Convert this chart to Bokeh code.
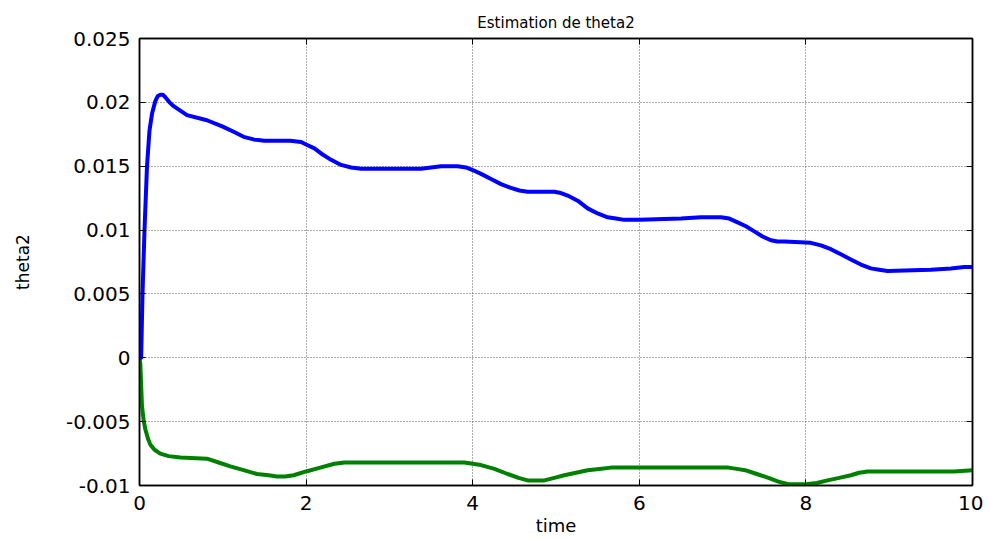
from bokeh.plotting import figure
from bokeh.models import LinearAxis, Range1d, FixedTicker, CustomJSTickFormatter
from bokeh.embed import file_html
from bokeh.resources import INLINE

title_text = "Estimation de theta2"
x_label = "time"
y_label = "theta2"

x_ticks = [0, 2, 4, 6, 8, 10]
y_ticks = [-0.01, -0.005, 0, 0.005, 0.01, 0.015, 0.02, 0.025]

t_blue = [0, 0.02, 0.036, 0.06, 0.09, 0.12, 0.15, 0.19, 0.22, 0.25, 0.28, 0.31, 0.36, 0.41,
          0.57, 0.81, 1.0, 1.13, 1.25, 1.37, 1.5, 1.81, 1.94, 2.0, 2.1, 2.18, 2.3, 2.42,
          2.54, 2.66, 2.9, 3.38, 3.5, 3.62, 3.82, 3.92, 4.0, 4.1, 4.22, 4.34, 4.46, 4.56,
          4.66, 4.98, 5.06, 5.14, 5.26, 5.38, 5.5, 5.62, 5.72, 5.82, 6.0, 6.5, 6.74, 6.98,
          7.08, 7.18, 7.28, 7.38, 7.48, 7.58, 7.66, 7.74, 8.06, 8.18, 8.3, 8.42, 8.54, 8.66,
          8.78, 8.88, 8.98, 9.5, 9.74, 9.9, 10.0]
v_blue = [0, 0.0, 0.005, 0.010, 0.015, 0.0178, 0.0191, 0.0201, 0.0205, 0.0206, 0.0206,
          0.0204, 0.0200, 0.0197, 0.0190, 0.0186, 0.0181, 0.0177, 0.0173, 0.0171, 0.0170,
          0.0170, 0.0169, 0.0167, 0.0164, 0.0160, 0.0155, 0.0151, 0.0149, 0.0148, 0.0148,
          0.0148, 0.0149, 0.0150, 0.0150, 0.0149, 0.0147, 0.0144, 0.0140, 0.0136, 0.0133,
          0.0131, 0.0130, 0.0130, 0.0129, 0.0127, 0.0123, 0.0117, 0.0113, 0.0110, 0.0109,
          0.0108, 0.0108, 0.0109, 0.0110, 0.0110, 0.0109, 0.0106, 0.0103, 0.0099, 0.0095,
          0.0092, 0.0091, 0.0091, 0.0090, 0.0088, 0.0085, 0.0081, 0.0077, 0.0073, 0.0070,
          0.0069, 0.0068, 0.0069, 0.0070, 0.0071, 0.0071]

t_green = [0, 0.01, 0.03, 0.05, 0.07, 0.1, 0.13, 0.18, 0.25, 0.35, 0.49, 0.81, 0.95, 1.09,
           1.25, 1.41, 1.55, 1.65, 1.75, 1.85, 2.0, 2.17, 2.34, 2.46, 2.58, 3.9, 4.0, 4.1,
           4.26, 4.42, 4.55, 4.66, 4.76, 4.86, 4.98, 5.1, 5.24, 5.38, 5.52, 5.66, 7.07,
           7.17, 7.27, 7.41, 7.55, 7.67, 7.79, 7.9, 8.0, 8.13, 8.26, 8.4, 8.54, 8.64, 8.74,
           9.78, 10.0]
v_green = [0, -0.0005, -0.0038, -0.0049, -0.0056, -0.0063, -0.0068, -0.0072, -0.0075,
           -0.0077, -0.0078, -0.0079, -0.0082, -0.0085, -0.0088, -0.0091, -0.0092, -0.0093,
           -0.0093, -0.0092, -0.0089, -0.0086, -0.0083, -0.0082, -0.0082, -0.0082, -0.0083,
           -0.0084, -0.0087, -0.0091, -0.0094, -0.0096, -0.0096, -0.0096, -0.0094, -0.0092,
           -0.0090, -0.0088, -0.0087, -0.0086, -0.0086, -0.0087, -0.0088, -0.0091, -0.0094,
           -0.0097, -0.0099, -0.0099, -0.0099, -0.0098, -0.0096, -0.0094, -0.0092, -0.0090,
           -0.0089, -0.0089, -0.0088]

FONT = "DejaVu Sans"

p = figure(width=983, height=538, output_backend="svg", toolbar_location=None,
           x_range=Range1d(0, 10), y_range=Range1d(-0.01, 0.025),
           min_border_left=139, min_border_right=11, min_border_top=38,
           min_border_bottom=44, title=title_text)

p.title.align = "center"
p.title.text_font = FONT
p.title.text_font_size = "15px"
p.title.text_font_style = "normal"
p.title.text_color = "black"
p.title.offset = 0
p.title.standoff = 13

fmt = CustomJSTickFormatter(code="return String(parseFloat(tick.toFixed(4)));")
blank = CustomJSTickFormatter(code="return '';")

for ax in (p.xaxis[0], p.yaxis[0]):
    ax.major_label_text_font = FONT
    ax.major_label_text_font_size = "20px"
    ax.major_label_text_color = "black"
    ax.axis_line_color = "black"
    ax.axis_line_width = 1.5
    ax.major_tick_in = 6
    ax.major_tick_out = 0
    ax.major_tick_line_color = "black"
    ax.minor_tick_line_color = None
    ax.axis_label_text_font = FONT
    ax.axis_label_text_color = "black"
    ax.axis_label_text_font_style = "normal"

p.xaxis[0].ticker = FixedTicker(ticks=x_ticks)
p.yaxis[0].ticker = FixedTicker(ticks=y_ticks)
p.xaxis[0].formatter = fmt
p.yaxis[0].formatter = fmt
p.xaxis[0].axis_label = x_label
p.yaxis[0].axis_label = y_label
p.xaxis[0].axis_label_text_font_size = "18px"
p.yaxis[0].axis_label_text_font_size = "17px"
p.xaxis[0].major_label_standoff = 10
p.yaxis[0].major_label_standoff = 9
p.xaxis[0].axis_label_standoff = 2
p.yaxis[0].axis_label_standoff = 30

for loc, tk in (("right", y_ticks), ("above", x_ticks)):
    a = LinearAxis(ticker=FixedTicker(ticks=tk), formatter=blank,
                   major_tick_in=6, major_tick_out=0, minor_tick_line_color=None,
                   axis_line_color="black", axis_line_width=1.5,
                   major_label_standoff=0)
    p.add_layout(a, loc)

p.xgrid.ticker = FixedTicker(ticks=x_ticks)
p.ygrid.ticker = FixedTicker(ticks=y_ticks)
for g in (p.xgrid, p.ygrid):
    g.grid_line_color = "#303030"
    g.grid_line_alpha = 0.8
    g.grid_line_dash = "1 2"
    g.grid_line_width = 1

p.outline_line_color = "black"
p.outline_line_width = 1.5

p.line(t_green, v_green, line_color="#008000", line_width=4, line_join="round")
p.line(t_blue, v_blue, line_color="#0000FF", line_width=4, line_join="round")

open("out.html", "w").write(file_html(p, INLINE))
